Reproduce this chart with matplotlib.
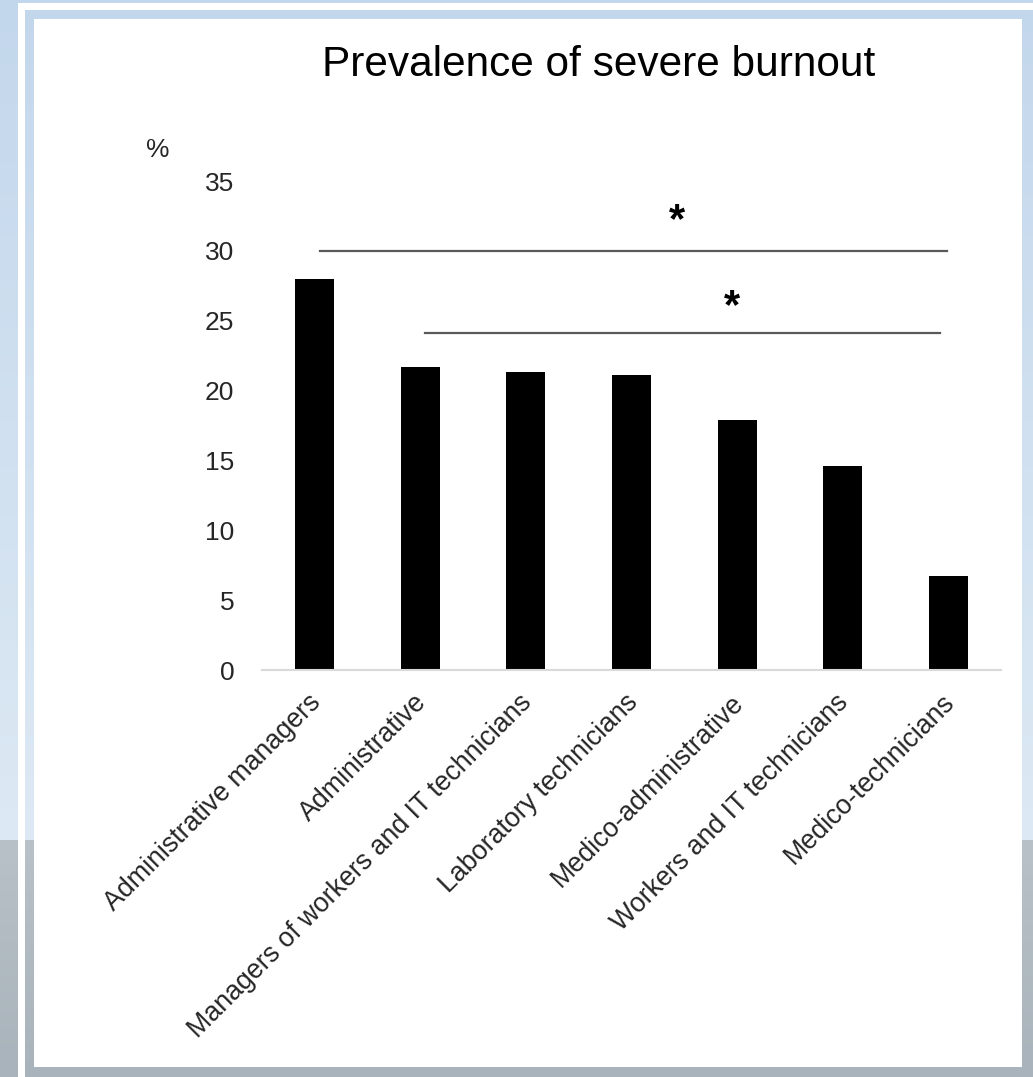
import numpy as np
import matplotlib
matplotlib.use("Agg")
import matplotlib.pyplot as plt
import matplotlib.transforms as mtransforms
from matplotlib.patches import Rectangle

plt.rcParams['font.family'] = ['Liberation Sans', 'DejaVu Sans']

# ==========================================
# DADOS
# ==========================================
categorias = ['Administrative managers', 'Administrative',
              'Managers of workers and IT technicians', 'Laboratory technicians',
              'Medico-administrative', 'Workers and IT technicians',
              'Medico-technicians']
prevalencia = [28.0, 21.7, 21.3, 21.1, 17.9, 14.6, 6.7]
y_ticks = [0, 5, 10, 15, 20, 25, 30, 35]

# barras de significancia: (inicio, fim, altura) e posicao dos asteriscos
sig_inicio = [0.05, 1.04]
sig_fim = [5.99, 5.92]
sig_altura = [30.0, 24.1]
ast_x = [3.43, 3.95]
ast_y = [32.1, 26.0]

W, H = 1033, 1077
fig = plt.figure(figsize=(W / 100, H / 100), dpi=100)


def px(x, y, w, h):
    # retangulo em pixels (origem no topo) -> fracao da figura
    return (x / W, 1 - (y + h) / H), w / W, h / H


# ==========================================
# FUNDO (moldura azul / cinza)
# ==========================================
bg = fig.add_axes([0, 0, 1, 1], zorder=-10)
bg.axis('off')
grad = np.zeros((H, 1, 3))
topo = np.array([0xc3, 0xd7, 0xec]) / 255
meio = np.array([0xdd, 0xe9, 0xf4]) / 255
cinza1 = np.array([0xb8, 0xc1, 0xc7]) / 255
cinza2 = np.array([0xa9, 0xb3, 0xbb]) / 255
corte = 840
for i in range(H):
    if i < corte:
        t = i / corte
        grad[i, 0] = topo * (1 - t) + meio * t
    else:
        t = (i - corte) / (H - corte)
        grad[i, 0] = cinza1 * (1 - t) + cinza2 * t
bg.set_xlim(0, 1)
bg.set_ylim(0, 1)
bg.imshow(grad, aspect='auto', extent=[0, 1, 0, 1], zorder=0)

xy, w, h = px(18, 3, 1030, 1090)
bg.add_patch(Rectangle(xy, w, h, transform=fig.transFigure, facecolor='white',
                       edgecolor='none', zorder=1))
xy, w, h = px(25, 10, 1020, 1080)
banda = Rectangle(xy, w, h, transform=fig.transFigure, facecolor='none', edgecolor='none')
bg.add_patch(banda)
im_banda = bg.imshow(grad, aspect='auto', extent=[0, 1, 0, 1], zorder=2)
im_banda.set_clip_path(banda)
xy, w, h = px(34, 19, 988, 1048)
bg.add_patch(Rectangle(xy, w, h, transform=fig.transFigure, facecolor='white',
                       edgecolor='none', zorder=5))

# ==========================================
# GRAFICO
# ==========================================
ax = fig.add_axes([262 / W, 1 - 670 / H, (1001 - 262) / W, (670 - 181) / H])
ax.set_facecolor('none')
x = np.arange(len(categorias))
ax.bar(x, prevalencia, width=0.37, color='black')

ax.set_xlim(-0.5, len(categorias) - 0.5)
ax.set_ylim(0, 35)
ax.set_yticks(y_ticks)
ax.set_yticklabels([str(v) for v in y_ticks], fontsize=19, color='#262626')
ax.tick_params(axis='y', length=0, pad=20)
ax.set_xticks(x)
ax.set_xticklabels(categorias, rotation=45, ha='right', rotation_mode='anchor',
                   fontsize=19.3, color='#262626')
ax.tick_params(axis='x', length=0, pad=14)
desloc = mtransforms.ScaledTranslation(-7 / 100, 0, fig.dpi_scale_trans)
for lbl in ax.get_xticklabels():
    lbl.set_transform(lbl.get_transform() + desloc)

for lado in ['top', 'right', 'left']:
    ax.spines[lado].set_visible(False)
ax.spines['bottom'].set_color('#d9d9d9')
ax.spines['bottom'].set_linewidth(1.5)

for x0, x1, yy in zip(sig_inicio, sig_fim, sig_altura):
    ax.plot([x0, x1], [yy, yy], color='#595959', lw=1.6, clip_on=False)
for xa, ya in zip(ast_x, ast_y):
    ax.text(xa, ya, '*', fontsize=30, ha='center', va='center', color='black',
            fontweight='bold', clip_on=False)

ax.text(-1.49, 37.2, '%', fontsize=19, ha='center', va='center', color='#262626', clip_on=False)

fig.text(599 / W, 1 - 65 / H, 'Prevalence of severe burnout', fontsize=30.5,
         ha='center', va='center', color='black')

fig.savefig('out.png', dpi=100)
